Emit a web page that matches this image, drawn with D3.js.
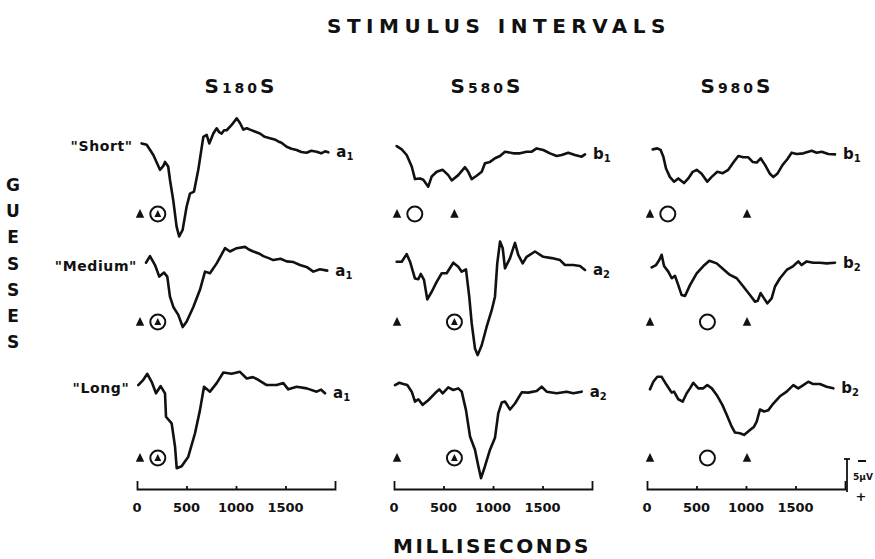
<!DOCTYPE html>
<meta charset="utf-8">
<style>
body { margin: 0; background: #fff; }
svg { display: block; font-family: "DejaVu Sans", sans-serif; }
.trace { fill: none; stroke: #111; stroke-width: 2.6; stroke-linejoin: round; stroke-linecap: round; }
.axis path, .axis line { stroke: #111; stroke-width: 1.8; }
.tick-label { font-size: 13px; font-weight: bold; text-anchor: middle; fill: #111; }
.big { fill: #111; }
</style>
<svg width="875" height="559"></svg>
<script src="https://cdn.jsdelivr.net/npm/d3@7"></script>
<script>

// stimulus intervals (columns) and guesses (rows)
var intervals = ["180", "580", "980"];
var intervalMs = [180, 580, 980];
var guesses = ["Short", "Medium", "Long"];

// time of the open circle (guess) in each panel, by row then column
var guessMs = [
  [180, 180, 180],
  [180, 580, 580],
  [180, 580, 580]
];

// trace labels, by row then column
var traceLabels = [
  [["a", "1"], ["b", "1"], ["b", "1"]],
  [["a", "1"], ["a", "2"], ["b", "2"]],
  [["a", "1"], ["a", "2"], ["b", "2"]]
];

var tickValues = [0, 500, 1000, 1500];

// averaged potentials, [ms, microvolts] (negative is up)
var s180Short = [[47,-1.6],[98,-1.4],[165,0.15],[232,2.4],[266,1.8],[283,1.2],[315,1.9],[333,3.9],[366,7.0],[400,11.0],[426,12.5],[461,11.5],[501,8.0],[535,6.0],[576,5.7],[619,2.4],[670,-2.6],[704,-2.9],[730,-1.6],[771,-3.1],[805,-3.9],[830,-3.3],[855,-3.1],[880,-3.6],[906,-3.6],[956,-4.4],[1007,-5.4],[1040,-4.7],[1074,-3.7],[1110,-3.9],[1141,-3.7],[1190,-3.4],[1242,-3.1],[1290,-2.6],[1343,-2.4],[1390,-2.2],[1427,-1.9],[1460,-1.7],[1511,-1.1],[1560,-0.8],[1612,-0.6],[1660,-0.3],[1713,-0.2],[1760,-0.5],[1814,-0.35],[1860,-0.1],[1900,-0.4],[1932,-0.25]];
var s180Medium = [[91,-0.8],[131,-1.8],[182,-0.45],[225,1.3],[273,0.7],[306,1.3],[333,4.35],[367,5.9],[417,7.1],[462,8.95],[502,8.1],[569,5.9],[636,3.3],[687,0.55],[737,0.8],[805,-0.7],[889,-3.0],[939,-2.5],[1007,-3.0],[1091,-3.2],[1130,-2.8],[1175,-2.5],[1230,-2.2],[1276,-1.8],[1330,-1.5],[1377,-1.2],[1450,-1.4],[1512,-1.0],[1580,-0.9],[1646,-0.45],[1720,-0.1],[1781,0.55],[1848,0.2],[1922,0.4]];
var s180Long = [[13,-0.9],[64,-1.7],[104,-2.6],[148,-1.4],[192,0.35],[239,-0.75],[283,0.35],[293,3.9],[350,4.9],[384,8.4],[401,11.7],[451,11.4],[518,9.95],[586,6.4],[636,2.9],[677,-0.65],[737,0.1],[805,-1.2],[872,-2.8],[956,-2.6],[1040,-2.9],[1108,-1.9],[1170,-2.1],[1225,-1.7],[1310,-0.9],[1411,-0.9],[1478,-1.2],[1528,-0.25],[1613,-0.65],[1714,-0.4],[1815,0.1],[1860,-0.2],[1899,0.35]];

var s580Short = [[27,-1.2],[78,-0.7],[128,0.15],[179,1.9],[212,3.8],[263,3.7],[296,3.9],[346,4.95],[381,3.4],[431,2.7],[492,2.4],[548,3.2],[583,4.0],[649,3.2],[717,2.0],[750,2.7],[785,3.8],[835,3.3],[886,2.7],[919,1.4],[970,1.2],[1020,0.65],[1071,0.3],[1121,-0.35],[1205,-0.1],[1273,-0.1],[1340,-0.35],[1391,-0.35],[1441,-0.85],[1508,-0.6],[1576,-0.1],[1643,0.3],[1694,0.15],[1760,-0.2],[1828,0.15],[1896,0.4],[1929,0.05]];
var s580Medium = [[27,-0.95],[78,-0.95],[128,-2.1],[162,-0.95],[212,1.6],[246,1.7],[270,0.9],[303,1.8],[336,4.75],[381,3.6],[431,2.1],[482,0.8],[532,0.8],[599,-0.8],[649,-0.2],[684,0.55],[727,0.2],[760,4.35],[785,8.4],[818,12.2],[845,13.2],[886,11.7],[936,8.9],[987,6.4],[1020,4.35],[1043,-0.7],[1071,-4.0],[1098,-3.0],[1121,0.05],[1172,-1.5],[1222,-3.8],[1255,-2.0],[1300,-0.7],[1340,-1.7],[1424,-2.5],[1508,-1.7],[1593,-1.5],[1677,-1.2],[1727,-0.45],[1811,-0.45],[1879,-0.3],[1929,0.3]];
var s580Long = [[10,-0.9],[54,-1.25],[94,-1.05],[134,-0.9],[179,0.1],[212,1.6],[246,1.25],[290,2.1],[346,1.4],[414,0.35],[457,-0.25],[492,0.35],[548,-0.55],[599,-0.15],[649,-0.4],[684,0.1],[727,2.9],[768,6.9],[818,8.9],[852,11.4],[879,13.2],[919,11.4],[970,8.9],[1020,7.1],[1053,3.4],[1088,1.75],[1121,1.6],[1172,2.8],[1222,1.9],[1290,0.2],[1356,0.25],[1441,0.0],[1492,-0.65],[1542,0.1],[1643,0.35],[1744,0.1],[1811,0.35],[1896,0.1]];

var s980Short = [[58,-0.7],[104,-0.85],[138,-0.6],[165,0.4],[192,2.2],[232,3.5],[273,4.2],[316,3.7],[374,4.4],[417,3.7],[462,2.7],[502,2.4],[552,3.0],[609,4.2],[651,3.5],[710,2.7],[765,2.9],[821,2.4],[872,1.3],[922,0.3],[973,0.5],[1023,0.5],[1067,1.2],[1108,1.3],[1148,0.65],[1192,1.65],[1242,3.0],[1276,3.5],[1316,3.0],[1370,1.65],[1417,0.8],[1461,-0.2],[1512,0.0],[1579,-0.1],[1663,-0.5],[1714,-0.2],[1764,-0.35],[1831,0.0],[1899,0.05]];
var s980Medium = [[47,-0.1],[91,-0.45],[124,-1.2],[148,-2.0],[172,-0.3],[215,0.55],[250,1.55],[283,1.2],[316,2.6],[350,4.1],[384,4.25],[434,2.6],[502,0.8],[569,-0.3],[630,-1.1],[704,-0.7],[771,0.2],[838,1.05],[906,1.55],[973,2.8],[1040,4.1],[1091,5.1],[1118,4.95],[1148,3.8],[1182,4.6],[1215,5.35],[1259,4.6],[1293,2.8],[1343,1.55],[1411,0.3],[1478,-0.3],[1528,-1.0],[1562,-0.45],[1613,-1.0],[1680,-0.8],[1747,-0.8],[1814,-0.7],[1899,-0.8]];
var s980Long = [[30,-0.25],[64,-1.4],[104,-2.15],[148,-2.15],[199,-0.9],[249,0.25],[273,0.1],[316,1.25],[361,1.6],[401,0.35],[434,-0.4],[468,-1.25],[518,-0.4],[569,-0.4],[609,-0.9],[655,-0.4],[704,0.6],[761,2.1],[805,3.6],[856,5.4],[889,6.3],[939,6.4],[980,6.65],[1040,5.9],[1081,5.4],[1108,4.65],[1141,2.8],[1182,3.1],[1226,2.9],[1276,1.9],[1343,0.8],[1411,0.1],[1478,-0.9],[1528,-0.4],[1579,-0.9],[1629,-1.4],[1680,-1.05],[1747,-1.05],[1814,-0.65],[1882,-0.4]];

var traces = [
  [s180Short, s580Short, s980Short],
  [s180Medium, s580Medium, s980Medium],
  [s180Long, s580Long, s980Long]
];

var svg = d3.select("svg");

// layout
var colX0 = [137, 394, 647],
    colW = 198,
    rowZero = [154, 268, 391],
    markerY = [214, 322, 458],
    axisY = 489,
    uvPx = 33 / 5;   // 5 uV bar is 33 px

var x = colX0.map(function(x0) {
  return d3.scaleLinear().domain([0, 2000]).range([x0, x0 + colW]);
});
var y = rowZero.map(function(y0) {
  return d3.scaleLinear().domain([0, 5]).range([y0, y0 + 5 * uvPx]);
});

// titles
svg.append("text")
  .attr("x", 499).attr("y", 33)
  .attr("text-anchor", "middle")
  .attr("class", "big")
  .style("font-size", "20px")
  .style("font-weight", "bold")
  .style("letter-spacing", "5.5px")
  .text("STIMULUS INTERVALS");

svg.append("text")
  .attr("x", 492).attr("y", 553)
  .attr("text-anchor", "middle")
  .attr("class", "big")
  .style("font-size", "20px")
  .style("font-weight", "bold")
  .style("letter-spacing", "2.5px")
  .text("MILLISECONDS");

var colCenters = [241, 487, 737];
intervals.forEach(function(iv, j) {
  var t = svg.append("text")
    .attr("x", colCenters[j]).attr("y", 93)
    .attr("text-anchor", "middle")
    .attr("class", "big")
    .style("font-weight", "bold")
    .style("letter-spacing", "3px");
  t.append("tspan").style("font-size", "20px").text("S");
  t.append("tspan").style("font-size", "14px").text(iv);
  t.append("tspan").style("font-size", "20px").text("S");
});

// GUESSES down the left side
"GUESSES".split("").forEach(function(ch, i) {
  svg.append("text")
    .attr("x", 13).attr("y", 191 + i * 26.2)
    .attr("text-anchor", "middle")
    .attr("class", "big")
    .style("font-size", "17px")
    .style("font-weight", "bold")
    .text(ch);
});

var line = d3.line();

guesses.forEach(function(g, i) {
  intervals.forEach(function(iv, j) {
    var data = traces[i][j], xs = x[j], ys = y[i];
    line.x(function(d) { return xs(d[0]); }).y(function(d) { return ys(d[1]); });

    svg.append("path")
      .datum(data)
      .attr("class", "trace")
      .attr("d", line);

    // trace label
    var last = data[data.length - 1];
    var lab = svg.append("text")
      .attr("x", xs(last[0]) + 8)
      .attr("y", ys(last[1]) + 5)
      .attr("class", "big")
      .style("font-size", "15px")
      .style("font-weight", "bold");
    lab.append("tspan").text(traceLabels[i][j][0]);
    lab.append("tspan").attr("dy", 3).style("font-size", "10px")
      .text(traceLabels[i][j][1]);

    // row label at the left of the first column
    if (j === 0) {
      svg.append("text")
        .attr("x", xs(data[0][0]) - 9)
        .attr("y", ys(data[0][1]) + 8)
        .attr("text-anchor", "end")
        .attr("class", "big")
        .style("font-size", "14px")
        .style("font-weight", "bold")
        .style("letter-spacing", "0.6px")
        .text("\"" + g + "\"");
    }

    // stimulus and guess markers
    var my = markerY[i], dx = 3;
    var tri = function(cx, s) {
      return "M" + cx + "," + (my - s) + "L" + (cx + s * 0.85) + "," + (my + s * 0.75) +
             "L" + (cx - s * 0.85) + "," + (my + s * 0.75) + "Z";
    };
    svg.append("path").attr("d", tri(xs(0) + dx, 5)).attr("fill", "#111");
    var gx = xs(guessMs[i][j]) + dx;
    svg.append("circle").attr("cx", gx).attr("cy", my).attr("r", 7.5)
      .attr("fill", "none").attr("stroke", "#111").attr("stroke-width", 2);
    if (guessMs[i][j] === intervalMs[j]) {
      svg.append("path").attr("d", tri(gx, 4)).attr("fill", "#111");
    } else {
      svg.append("path").attr("d", tri(xs(intervalMs[j]) + dx, 5)).attr("fill", "#111");
    }
  });
});

// time axes under each column
x.forEach(function(xs) {
  svg.append("g")
    .attr("class", "axis")
    .attr("transform", "translate(0," + axisY + ")")
    .call(d3.axisTop(xs).tickValues(tickValues.slice(1)).tickSizeInner(3).tickSizeOuter(8).tickFormat(""));

  svg.selectAll(null)
    .data(tickValues)
    .enter().append("text")
    .attr("class", "tick-label")
    .attr("x", function(d) { return xs(d); })
    .attr("y", 512)
    .text(function(d) { return d; });
});

// calibration bar
var cal = svg.append("g").attr("stroke", "#111").attr("stroke-width", 1.8);
cal.append("line").attr("x1", 847).attr("x2", 847).attr("y1", 459).attr("y2", 459 + 5 * uvPx);
cal.append("line").attr("x1", 844).attr("x2", 850).attr("y1", 459).attr("y2", 459);
cal.append("line").attr("x1", 858).attr("x2", 866).attr("y1", 461).attr("y2", 461).attr("stroke-width", 2);
svg.append("text").attr("x", 853).attr("y", 480).attr("class", "big")
  .style("font-size", "9px").style("font-weight", "bold").text("5\u03BCV");
svg.append("text").attr("x", 861).attr("y", 501).attr("text-anchor", "middle").attr("class", "big")
  .style("font-size", "13px").style("font-weight", "bold").text("+");

</script>
